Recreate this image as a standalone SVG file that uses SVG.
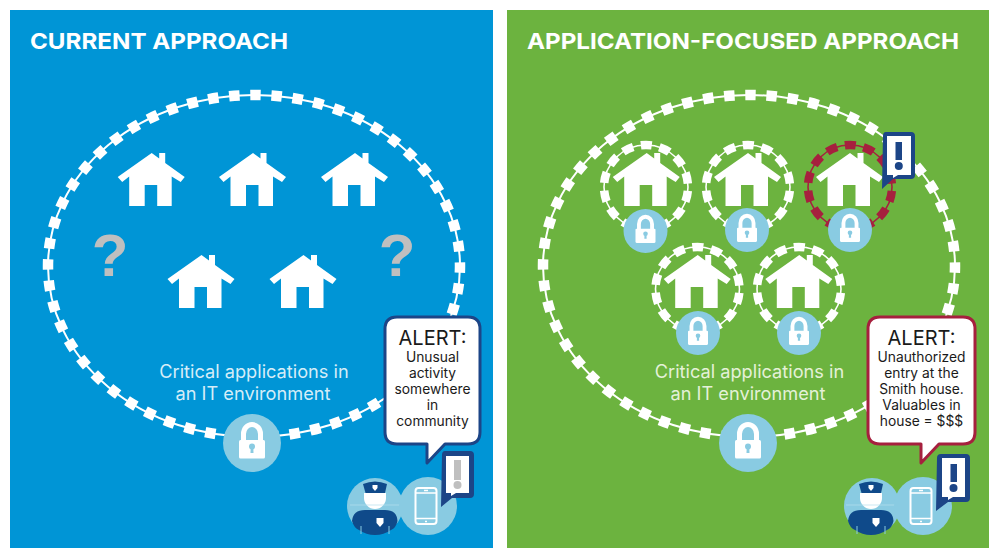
<svg xmlns="http://www.w3.org/2000/svg" width="992" height="548" viewBox="0 0 992 548">
<style>
text{font-family:"Inter","Liberation Sans",Arial,sans-serif}
.title{font-size:22px;font-weight:700;fill:#fff}
.cap{font-size:18.2px;fill:#e4f1d8;text-anchor:middle}
.capb{fill:#d5edf8}
.al{font-size:20px;fill:#1a1a1a;text-anchor:middle}
.sm{font-size:13.8px;fill:#1a1a1a;text-anchor:middle}
.q{font-family:"Liberation Sans",Arial,sans-serif;font-size:60px;font-weight:700;fill:#bfbfbf;text-anchor:middle}
.line{fill:none;stroke:#fff;stroke-width:2}
.bigd{fill:none;stroke:#fff;stroke-width:10.5;stroke-dasharray:10.5 10.696;stroke-dashoffset:3.75}
.ringl{fill:none;stroke:#fff;stroke-width:1.6}
.ringd{fill:none;stroke:#fff;stroke-width:8.5;stroke-dasharray:11 7.85;stroke-dashoffset:-3.9}
.lc{fill:#89cbe2}
</style>
<defs>
<symbol id="house" overflow="visible" viewBox="0 0 1 1" width="1" height="1">
<path fill="#fff" d="M0,0 L7.5,5.5 V0 H13.5 V10 L33,24 L29,29 L20,23.5 V53 H5.5 V32 H-7 V53 H-22.5 V23.5 L-29.5,29 L-34,24 Z"/>
</symbol>
<g id="lock">
<path fill="none" stroke="#fff" stroke-width="5" d="M-8.5,2 V-9 A8.5,9.5 0 0 1 8.5,-9 V2"/>
<rect x="-13" y="-3" width="26" height="18.5" rx="1.5" fill="#fff"/>
<circle cx="0" cy="3.5" r="3" fill="#89cbe2"/>
<path fill="#89cbe2" d="M-1.3,4 H1.3 L1.5,10 H-1.5 Z"/>
</g>
<g id="officer">
<path fill="#fff" d="M-11,-8 A11,11 0 0 0 11,-8 L11,-13 H-11 Z"/>
<path fill="#0f4a8a" d="M-12,-22 Q0,-27 12,-22 L10,-13 H-9.5 Z"/>
<path fill="#fff" d="M-2.5,-21 H2.5 V-18 L0,-15 L-2.5,-18 Z"/>
<path stroke="#b6dfee" stroke-width=".7" d="M-25,-1 H25"/>
<path fill="#0f4a8a" d="M-23,15 Q-22,4 -10,4 H10 Q22,4 22.500,15 Q21,22 16,24 A28,28 0 0 1 -16,24 Q-21,22 -23,15Z"/>
<path fill="#fff" d="M1.500,12 H8.500 V17 L5,21 L1.500,17 Z"/>
<path stroke="#89cbe2" stroke-width="1" d="M-14,20 V28 M14,20 V28"/>
</g>
<g id="phone">
<rect x="-11.500" y="-18" width="21" height="36" rx="3" fill="none" stroke="#fff" stroke-width="2"/>
<path stroke="#fff" stroke-width="1.500" d="M-11,-13 H9 M-11,12.500 H9 M-3,-15.500 H1 M-2,15.500 H0"/>
</g>
</defs>

<g id="panel-current"><rect x="10" y="10" width="483" height="538" fill="#0095d6"/></g>
<g id="panel-application"><rect x="507" y="10" width="482" height="538" fill="#6cb33f"/></g>
<text class="title" x="30" y="49" textLength="258" lengthAdjust="spacingAndGlyphs">CURRENT APPROACH</text>
<text class="title" x="527" y="49" textLength="432" lengthAdjust="spacingAndGlyphs">APPLICATION-FOCUSED APPROACH</text>

<g id="connectors">
<ellipse class="line" cx="254" cy="266" rx="206" ry="171"/>
<ellipse class="bigd" cx="254" cy="266" rx="206" ry="171" pathLength="1187"/>
<ellipse class="line" cx="749" cy="266" rx="206" ry="171"/>
<ellipse class="bigd" cx="749" cy="266" rx="206" ry="171" pathLength="1187"/>
</g>

<g id="left-houses">
<use href="#house" x="151.700" y="153"/>
<use href="#house" x="253" y="153"/>
<use href="#house" x="355" y="153"/>
<use href="#house" x="201.500" y="255"/>
<use href="#house" x="303.500" y="255"/>
</g>
<text class="q" x="110" y="276">?</text>
<text class="q" x="397" y="276">?</text>
<g id="left-lock"><circle class="lc" cx="252" cy="443" r="29"/><use href="#lock" x="252" y="443"/></g>
<text class="cap capb"><tspan x="254" y="378">Critical applications in</tspan><tspan x="253" y="400">an IT environment</tspan></text>

<g id="left-alert">
<path fill="#fff" stroke="#1c4587" stroke-width="3" stroke-linejoin="round" d="M397,317 H468 Q480,317 480,329 V432 Q480,444 468,444 H445 L427,463 V444 H397 Q385,444 385,432 V329 Q385,317 397,317 Z"/>
<text class="al" x="432.500" y="345">ALERT:</text>
<text class="sm"><tspan x="432.500" y="362">Unusual</tspan><tspan x="432.500" y="378">activity</tspan><tspan x="432.500" y="394">somewhere</tspan><tspan x="432.500" y="410">in</tspan><tspan x="432.500" y="426">community</tspan></text>
</g>
<g id="left-officer"><circle class="lc" cx="375" cy="506" r="28"/><use href="#officer" x="375" y="506"/></g>
<g id="left-phone"><circle class="lc" cx="428" cy="506" r="29"/><use href="#phone" x="427" y="506"/></g>
<g id="left-bang">
<path fill="#1c4587" d="M445,451 H470 Q474,451 474,455 V494 Q474,498 470,498 H452 L441,507 L442,455 Q442,451 445,451 Z"/>
<path fill="#fff" d="M446,456 H469 V493 H456 L451,496 V493 H446 Z"/>
<rect x="454" y="460" width="7" height="20" fill="#bfbfbf"/><circle cx="457.500" cy="485" r="4" fill="#bfbfbf"/>
</g>

<g id="ring1"><circle class="ringl" cx="646" cy="187" r="42"/><circle class="ringd" cx="646" cy="187" r="42"/><use href="#house" x="646.700" y="153"/><circle class="lc" cx="645.500" cy="231" r="22"/><use href="#lock" transform="translate(645.500 231) scale(.77)"/></g>
<g id="ring2"><circle class="ringl" cx="748" cy="187" r="42"/><circle class="ringd" cx="748" cy="187" r="42"/><use href="#house" x="748" y="153"/><circle class="lc" cx="747" cy="230" r="22"/><use href="#lock" transform="translate(747 230) scale(.77)"/></g>
<g id="ring3"><circle cx="850" cy="187" r="42" fill="none" stroke="#a6203e" stroke-width="1.600"/><circle cx="850" cy="187" r="42" fill="none" stroke="#a6203e" stroke-width="8.500" stroke-dasharray="11 7.85" stroke-dashoffset="-3.9"/><use href="#house" x="850" y="153"/><circle class="lc" cx="850" cy="230" r="22"/><use href="#lock" transform="translate(850 230) scale(.77)"/></g>
<g id="ring4"><circle class="ringl" cx="697.500" cy="289" r="42"/><circle class="ringd" cx="697.500" cy="289" r="42"/><use href="#house" x="697.700" y="255"/><circle class="lc" cx="698" cy="333" r="22"/><use href="#lock" transform="translate(698 333) scale(.77)"/></g>
<g id="ring5"><circle class="ringl" cx="799" cy="289" r="42"/><circle class="ringd" cx="799" cy="289" r="42"/><use href="#house" x="799.300" y="255"/><circle class="lc" cx="799" cy="333" r="22"/><use href="#lock" transform="translate(799 333) scale(.77)"/></g>
<g id="ring3-bang">
<path fill="#1c4587" d="M886,132 H911 Q915,132 915,136 V175 Q915,179 911,179 H893 L882,189 L883,136 Q883,132 886,132 Z"/>
<path fill="#fff" d="M887,136 H911 V175 H898 L893,178 V175 H887 Z"/>
<rect x="895.500" y="142" width="6.500" height="18" fill="#1c4587"/><circle cx="898.800" cy="166" r="4" fill="#1c4587"/>
</g>
<g id="right-lock"><circle class="lc" cx="748" cy="443" r="29"/><use href="#lock" x="748" y="443"/></g>
<text class="cap"><tspan x="749.500" y="378">Critical applications in</tspan><tspan x="748" y="400">an IT environment</tspan></text>

<g id="right-alert">
<path fill="#fff" stroke="#a6203e" stroke-width="3" stroke-linejoin="round" d="M880,317 H963 Q975,317 975,329 V432 Q975,444 963,444 H939 L921,463 V444 H880 Q868,444 868,432 V329 Q868,317 880,317 Z"/>
<text class="al" x="921.500" y="345">ALERT:</text>
<text class="sm"><tspan x="921.500" y="362">Unauthorized</tspan><tspan x="921.500" y="378">entry at the</tspan><tspan x="921.500" y="394">Smith house.</tspan><tspan x="921.500" y="410">Valuables in</tspan><tspan x="921.500" y="426">house = $$$</tspan></text>
</g>
<g id="right-officer"><circle class="lc" cx="872" cy="506" r="28"/><use href="#officer" x="871" y="506"/></g>
<g id="right-phone"><circle class="lc" cx="923" cy="506" r="29"/><use href="#phone" x="922" y="506"/></g>
<g id="right-bang">
<path fill="#1c4587" d="M941,454 H966 Q970,454 970,458 V498 Q970,502 966,502 H948 L936,511 L937,458 Q937,454 941,454 Z"/>
<path fill="#fff" d="M942,458 H965 V497 H953 L948,500 V497 H942 Z"/>
<rect x="950.500" y="464" width="6.500" height="18" fill="#1c4587"/><circle cx="953.500" cy="488" r="4" fill="#1c4587"/>
</g>
</svg>
